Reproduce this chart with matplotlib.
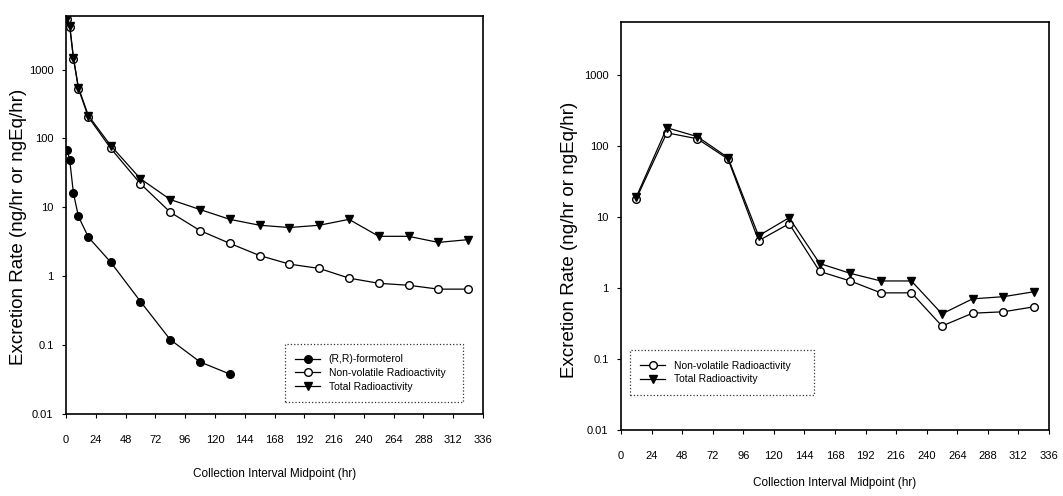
import matplotlib
matplotlib.use("Agg")
import matplotlib.pyplot as plt
from matplotlib.ticker import FixedLocator, FixedFormatter, NullLocator

plt.rcParams['font.family'] = ['Liberation Sans', 'DejaVu Sans']

# urine: collection interval midpoints (hr)
urine_hr = [1, 3, 6, 10, 18, 36, 60, 84, 108, 132, 156, 180, 204, 228, 252, 276, 300, 324]
urine_rr = [69, 48, 16, 7.4, 3.7, 1.6, 0.43, 0.12, 0.057, 0.038]
urine_nonvol = [5400, 4200, 1450, 530, 205, 72, 22, 8.5, 4.6, 3.0, 2.0, 1.5, 1.3, 0.94, 0.79, 0.74, 0.65, 0.65]
urine_total = [5650, 4350, 1490, 550, 215, 79, 26, 13, 9.3, 6.7, 5.5, 5.1, 5.5, 6.7, 3.8, 3.8, 3.1, 3.4]

# feces
feces_hr = [12, 36, 60, 84, 108, 132, 156, 180, 204, 228, 252, 276, 300, 324]
feces_nonvol = [18, 152, 125, 65, 4.6, 8.0, 1.7, 1.25, 0.85, 0.85, 0.29, 0.44, 0.46, 0.54]
feces_total = [19, 179, 134, 68, 5.4, 9.7, 2.2, 1.6, 1.25, 1.25, 0.43, 0.70, 0.75, 0.88]

x_ticks = list(range(0, 337, 24))
y_ticks = [0.01, 0.1, 1, 10, 100, 1000]
y_labels = ['0.01', '0.1', '1', '10', '100', '1000']

fig = plt.figure(figsize=(10.63, 4.96), dpi=100)
ax1 = fig.add_axes([0.0621, 0.1653, 0.3923, 0.8024])
ax2 = fig.add_axes([0.5842, 0.1331, 0.4026, 0.8225])


def style_axes(ax, ytop, ylabel_xy, xlabel_pad):
    ax.set_yscale('log')
    ax.set_ylim(0.01, ytop)
    ax.set_xlim(0, 336)
    ax.yaxis.set_major_locator(FixedLocator(y_ticks))
    ax.yaxis.set_major_formatter(FixedFormatter(y_labels))
    ax.yaxis.set_minor_locator(NullLocator())
    ax.set_xticks(x_ticks)
    ax.set_xticklabels([str(t) for t in x_ticks])
    ax.tick_params(axis='both', labelsize=8, length=3, width=0.8, direction='out')
    ax.tick_params(axis='x', pad=12)
    ax.tick_params(axis='y', pad=6)
    for s in ax.spines.values():
        s.set_linewidth(1.2)
        s.set_color('black')
    ax.set_ylabel('Excretion Rate (ng/hr or ngEq/hr)', fontsize=13.5)
    ax.yaxis.set_label_coords(*ylabel_xy)
    ax.set_xlabel('Collection Interval Midpoint (hr)', fontsize=8.5, labelpad=xlabel_pad)


line_kw = dict(color='black', linewidth=0.9, markersize=5.5)

ax1.plot(urine_hr[:len(urine_rr)], urine_rr, marker='o', markerfacecolor='black',
         markeredgecolor='black', label='(R,R)-formoterol', **line_kw)
ax1.plot(urine_hr, urine_nonvol, marker='o', markerfacecolor='white',
         markeredgecolor='black', label='Non-volatile Radioactivity', **line_kw)
ax1.plot(urine_hr, urine_total, marker='v', markerfacecolor='black',
         markeredgecolor='black', label='Total Radioactivity', **line_kw)
style_axes(ax1, 6000, (-0.093, 0.47), 17)

ax2.plot(feces_hr, feces_nonvol, marker='o', markerfacecolor='white',
         markeredgecolor='black', label='Non-volatile Radioactivity', **line_kw)
ax2.plot(feces_hr, feces_total, marker='v', markerfacecolor='black',
         markeredgecolor='black', label='Total Radioactivity', **line_kw)
style_axes(ax2, 5500, (-0.1, 0.467), 12)


def dotted_legend(ax, anchor):
    leg = ax.legend(loc='lower left', bbox_to_anchor=anchor, mode='expand',
                    fontsize=7.5, frameon=True, fancybox=False, borderpad=1.0,
                    handlelength=2.4, labelspacing=0.35, borderaxespad=0)
    frame = leg.get_frame()
    frame.set_edgecolor('black')
    frame.set_linestyle(':')
    frame.set_linewidth(0.9)
    return leg


dotted_legend(ax1, (0.525, 0.03, 0.427, 0.206))
dotted_legend(ax2, (0.021, 0.086, 0.43, 0.152))

fig.savefig('out.png', dpi=100)
